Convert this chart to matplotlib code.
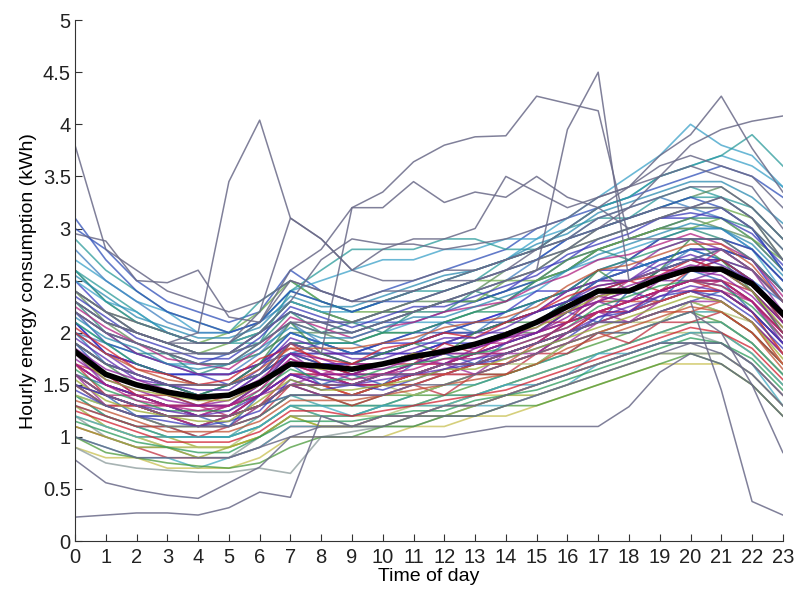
import numpy as np
import matplotlib
matplotlib.use('Agg')
import matplotlib.pyplot as plt

hours = list(range(24))

# average profile (thick black line)
mean_profile = [1.82, 1.60, 1.50, 1.43, 1.38, 1.40, 1.52, 1.70, 1.68, 1.65, 1.70, 1.77,
                1.82, 1.89, 1.98, 2.10, 2.25, 2.40, 2.40, 2.52, 2.61, 2.61, 2.47, 2.18]

# upper band of household profiles
upper_band = [
    [3.0, 2.8, 2.5, 2.3, 2.2, 2.1, 2.2, 2.6, 2.4, 2.3, 2.4, 2.5, 2.6, 2.7, 2.8, 3.0, 3.1, 3.2, 3.3, 3.4, 3.5, 3.6, 3.5, 3.3],
    [2.9, 2.6, 2.4, 2.2, 2.1, 2.0, 2.3, 2.5, 2.3, 2.2, 2.3, 2.4, 2.4, 2.5, 2.7, 2.8, 3.0, 3.1, 3.1, 3.3, 3.4, 3.3, 3.1, 2.8],
    [2.7, 2.5, 2.3, 2.2, 2.0, 2.0, 2.1, 2.4, 2.5, 2.6, 2.7, 2.7, 2.8, 2.8, 2.9, 2.9, 3.0, 3.2, 3.3, 3.5, 3.6, 3.7, 3.6, 3.4],
    [2.6, 2.3, 2.1, 2.0, 1.9, 1.9, 2.0, 2.3, 2.2, 2.1, 2.2, 2.3, 2.3, 2.4, 2.6, 2.7, 2.8, 3.0, 3.1, 3.2, 3.3, 3.4, 3.2, 2.9],
    [2.5, 2.2, 2.0, 1.9, 1.8, 1.8, 2.0, 2.2, 2.1, 2.1, 2.2, 2.2, 2.3, 2.3, 2.4, 2.6, 2.7, 2.9, 3.0, 3.1, 3.1, 3.2, 3.0, 2.6],
    [2.4, 2.2, 2.1, 2.0, 1.9, 2.0, 2.2, 2.5, 2.3, 2.2, 2.2, 2.3, 2.4, 2.5, 2.5, 2.6, 2.8, 2.9, 3.0, 3.1, 3.2, 3.2, 3.1, 2.7],
    [2.8, 2.5, 2.3, 2.1, 2.0, 2.0, 2.1, 2.3, 2.2, 2.1, 2.1, 2.2, 2.3, 2.4, 2.5, 2.7, 2.9, 3.1, 3.2, 3.3, 3.2, 3.1, 2.9, 2.6],
    [2.3, 2.1, 2.0, 1.9, 1.8, 1.8, 1.9, 2.1, 2.0, 2.0, 2.1, 2.2, 2.3, 2.3, 2.4, 2.5, 2.7, 2.8, 2.9, 3.0, 3.1, 3.1, 3.0, 2.7],
    [2.2, 2.0, 1.9, 1.8, 1.7, 1.8, 2.0, 2.2, 2.1, 2.0, 2.1, 2.1, 2.2, 2.3, 2.4, 2.5, 2.6, 2.8, 2.9, 3.0, 3.0, 3.0, 2.8, 2.5],
    [2.6, 2.4, 2.2, 2.0, 1.9, 1.9, 1.9, 2.4, 2.6, 2.8, 2.8, 2.8, 2.9, 2.9, 2.8, 2.8, 2.9, 3.0, 3.1, 3.2, 3.3, 3.3, 3.2, 2.9],
    [2.1, 1.9, 1.8, 1.7, 1.7, 1.7, 1.8, 2.0, 1.9, 1.9, 2.0, 2.1, 2.1, 2.2, 2.3, 2.4, 2.6, 2.7, 2.8, 2.9, 3.0, 3.0, 2.8, 2.4],
    [2.4, 2.1, 1.9, 1.8, 1.7, 1.7, 1.8, 2.0, 2.0, 1.9, 2.0, 2.0, 2.1, 2.2, 2.3, 2.5, 2.7, 2.8, 2.9, 3.0, 3.1, 3.0, 2.9, 2.6],
]

# middle-high band
midhigh_band = [
    [2.1, 1.8, 1.7, 1.6, 1.6, 1.6, 1.7, 1.9, 1.8, 1.8, 1.9, 1.9, 2.0, 2.1, 2.2, 2.3, 2.4, 2.6, 2.6, 2.7, 2.8, 2.8, 2.7, 2.3],
    [2.0, 1.8, 1.7, 1.6, 1.5, 1.5, 1.7, 1.9, 1.9, 1.8, 1.8, 1.9, 2.0, 2.0, 2.1, 2.2, 2.4, 2.5, 2.5, 2.7, 2.8, 2.8, 2.6, 2.3],
    [2.2, 1.9, 1.8, 1.7, 1.6, 1.6, 1.7, 1.8, 1.8, 1.8, 1.9, 2.0, 2.0, 2.1, 2.1, 2.2, 2.3, 2.5, 2.6, 2.7, 2.7, 2.8, 2.7, 2.4],
    [1.9, 1.7, 1.6, 1.5, 1.5, 1.5, 1.6, 1.8, 1.7, 1.7, 1.8, 1.8, 1.9, 2.0, 2.1, 2.2, 2.3, 2.5, 2.5, 2.6, 2.7, 2.7, 2.5, 2.2],
    [2.0, 1.7, 1.6, 1.5, 1.4, 1.5, 1.7, 2.0, 1.9, 1.8, 1.8, 1.9, 1.9, 2.0, 2.1, 2.3, 2.4, 2.5, 2.6, 2.7, 2.8, 2.7, 2.5, 2.1],
    [1.9, 1.7, 1.6, 1.5, 1.4, 1.4, 1.6, 1.8, 1.8, 1.7, 1.7, 1.8, 1.9, 2.0, 2.0, 2.1, 2.3, 2.4, 2.5, 2.6, 2.6, 2.6, 2.4, 2.1],
    [2.1, 1.9, 1.7, 1.6, 1.5, 1.5, 1.6, 1.9, 1.9, 1.9, 2.0, 2.0, 2.1, 2.2, 2.2, 2.3, 2.4, 2.6, 2.7, 2.8, 2.9, 2.9, 2.7, 2.4],
    [1.8, 1.6, 1.5, 1.4, 1.4, 1.4, 1.5, 1.7, 1.7, 1.7, 1.8, 1.8, 1.9, 1.9, 2.0, 2.1, 2.3, 2.4, 2.4, 2.5, 2.6, 2.7, 2.5, 2.2],
    [2.0, 1.8, 1.6, 1.5, 1.4, 1.4, 1.6, 1.9, 1.8, 1.7, 1.7, 1.8, 1.8, 1.9, 2.0, 2.1, 2.2, 2.4, 2.5, 2.6, 2.7, 2.7, 2.6, 2.3],
    [1.9, 1.6, 1.5, 1.4, 1.3, 1.3, 1.5, 1.8, 1.7, 1.6, 1.7, 1.8, 1.8, 1.9, 2.0, 2.1, 2.3, 2.4, 2.4, 2.6, 2.7, 2.6, 2.5, 2.2],
    [2.2, 2.0, 1.8, 1.7, 1.6, 1.6, 1.7, 1.9, 1.8, 1.8, 1.8, 1.9, 2.0, 2.0, 2.1, 2.2, 2.4, 2.5, 2.6, 2.8, 2.9, 2.8, 2.6, 2.2],
    [1.8, 1.6, 1.5, 1.5, 1.4, 1.5, 1.6, 1.8, 1.9, 1.8, 1.8, 1.9, 2.0, 2.0, 2.1, 2.2, 2.3, 2.5, 2.6, 2.7, 2.8, 2.7, 2.5, 2.3],
]

# central band
central_band = [
    [1.7, 1.5, 1.4, 1.3, 1.3, 1.3, 1.4, 1.6, 1.6, 1.6, 1.6, 1.7, 1.7, 1.8, 1.9, 2.0, 2.1, 2.3, 2.3, 2.4, 2.5, 2.5, 2.4, 2.1],
    [1.6, 1.4, 1.3, 1.2, 1.2, 1.2, 1.4, 1.6, 1.5, 1.5, 1.6, 1.6, 1.7, 1.8, 1.8, 1.9, 2.1, 2.2, 2.3, 2.4, 2.5, 2.5, 2.3, 2.0],
    [1.8, 1.6, 1.4, 1.3, 1.3, 1.3, 1.4, 1.7, 1.6, 1.5, 1.6, 1.7, 1.7, 1.8, 1.9, 2.0, 2.1, 2.2, 2.3, 2.4, 2.4, 2.5, 2.3, 2.0],
    [1.7, 1.5, 1.4, 1.3, 1.2, 1.3, 1.4, 1.6, 1.5, 1.5, 1.5, 1.6, 1.7, 1.7, 1.8, 1.9, 2.0, 2.1, 2.2, 2.3, 2.4, 2.4, 2.2, 1.9],
    [1.6, 1.4, 1.3, 1.3, 1.2, 1.2, 1.3, 1.5, 1.5, 1.4, 1.5, 1.6, 1.6, 1.7, 1.8, 1.9, 2.0, 2.2, 2.2, 2.3, 2.4, 2.4, 2.2, 1.9],
    [1.7, 1.5, 1.4, 1.3, 1.3, 1.3, 1.5, 1.7, 1.7, 1.6, 1.6, 1.7, 1.8, 1.8, 1.9, 2.0, 2.2, 2.3, 2.4, 2.5, 2.6, 2.6, 2.4, 2.0],
    [1.5, 1.4, 1.3, 1.2, 1.1, 1.2, 1.3, 1.5, 1.4, 1.4, 1.5, 1.5, 1.6, 1.7, 1.7, 1.8, 2.0, 2.1, 2.2, 2.3, 2.4, 2.3, 2.1, 1.8],
    [1.6, 1.5, 1.4, 1.3, 1.2, 1.2, 1.3, 1.4, 1.4, 1.4, 1.5, 1.6, 1.6, 1.7, 1.8, 1.9, 2.0, 2.1, 2.1, 2.2, 2.3, 2.4, 2.2, 1.9],
    [1.7, 1.4, 1.3, 1.2, 1.2, 1.2, 1.3, 1.6, 1.6, 1.5, 1.5, 1.6, 1.7, 1.7, 1.8, 1.9, 2.0, 2.2, 2.3, 2.4, 2.5, 2.4, 2.2, 1.8],
    [1.5, 1.3, 1.2, 1.2, 1.1, 1.1, 1.3, 1.5, 1.4, 1.4, 1.4, 1.5, 1.6, 1.6, 1.7, 1.8, 1.9, 2.1, 2.1, 2.2, 2.3, 2.3, 2.1, 1.8],
    [1.6, 1.4, 1.3, 1.3, 1.2, 1.3, 1.4, 1.6, 1.6, 1.5, 1.5, 1.6, 1.6, 1.7, 1.7, 1.8, 2.0, 2.1, 2.2, 2.3, 2.4, 2.4, 2.3, 2.0],
    [1.8, 1.5, 1.4, 1.3, 1.2, 1.2, 1.4, 1.6, 1.5, 1.5, 1.6, 1.6, 1.7, 1.8, 1.9, 2.0, 2.1, 2.3, 2.4, 2.5, 2.5, 2.5, 2.3, 1.9],
    [1.5, 1.3, 1.3, 1.2, 1.1, 1.2, 1.3, 1.5, 1.5, 1.4, 1.5, 1.5, 1.6, 1.6, 1.7, 1.8, 1.9, 2.0, 2.1, 2.2, 2.2, 2.3, 2.1, 1.7],
    [1.6, 1.4, 1.3, 1.2, 1.2, 1.2, 1.3, 1.5, 1.5, 1.5, 1.5, 1.6, 1.7, 1.8, 1.8, 1.9, 2.1, 2.2, 2.3, 2.4, 2.5, 2.5, 2.3, 2.0],
    [1.9, 1.7, 1.5, 1.5, 1.4, 1.5, 1.7, 2.1, 1.8, 1.7, 1.8, 1.9, 1.8, 2.0, 2.1, 2.1, 2.3, 2.6, 2.4, 2.6, 2.9, 2.7, 2.4, 2.0],
    [1.5, 1.4, 1.2, 1.2, 1.2, 1.1, 1.4, 1.7, 1.5, 1.6, 1.5, 1.7, 1.8, 1.7, 1.9, 2.0, 2.2, 2.1, 2.4, 2.3, 2.6, 2.5, 2.2, 1.9],
    [1.7, 1.6, 1.4, 1.4, 1.3, 1.4, 1.5, 1.9, 1.7, 1.6, 1.7, 1.7, 1.9, 1.8, 2.0, 2.1, 2.1, 2.4, 2.5, 2.4, 2.6, 2.7, 2.5, 2.1],
    [1.6, 1.3, 1.3, 1.2, 1.1, 1.2, 1.4, 1.5, 1.6, 1.5, 1.6, 1.6, 1.7, 1.6, 1.8, 1.8, 2.0, 2.2, 2.1, 2.3, 2.4, 2.3, 2.1, 1.8],
    [1.8, 1.6, 1.5, 1.4, 1.4, 1.4, 1.5, 1.7, 1.6, 1.7, 1.7, 1.8, 1.8, 1.9, 1.9, 2.1, 2.2, 2.3, 2.5, 2.6, 2.6, 2.8, 2.6, 2.3],
    [1.7, 1.5, 1.4, 1.3, 1.3, 1.3, 1.5, 1.8, 1.6, 1.6, 1.6, 1.7, 1.8, 1.8, 1.9, 2.0, 2.2, 2.3, 2.2, 2.4, 2.5, 2.6, 2.4, 2.1],
    [1.5, 1.3, 1.3, 1.2, 1.2, 1.2, 1.3, 1.5, 1.5, 1.4, 1.5, 1.6, 1.6, 1.7, 1.7, 1.9, 2.0, 2.2, 2.3, 2.3, 2.4, 2.4, 2.2, 1.8],
    [1.6, 1.4, 1.4, 1.3, 1.3, 1.2, 1.4, 1.7, 1.6, 1.5, 1.6, 1.6, 1.7, 1.7, 1.8, 1.9, 2.1, 2.2, 2.2, 2.4, 2.5, 2.5, 2.3, 2.0],
]

# extra profiles filling the dense core
core_band = [
    [1.75, 1.55, 1.45, 1.35, 1.3, 1.35, 1.5, 1.75, 1.6, 1.6, 1.7, 1.75, 1.7, 1.85, 1.95, 2.0, 2.15, 2.35, 2.3, 2.5, 2.6, 2.55, 2.35, 2.05],
    [2.05, 1.85, 1.65, 1.6, 1.5, 1.55, 1.75, 1.85, 1.75, 1.7, 1.85, 1.9, 2.0, 1.95, 2.1, 2.2, 2.35, 2.45, 2.5, 2.55, 2.7, 2.6, 2.45, 2.15],
    [1.45, 1.3, 1.2, 1.15, 1.1, 1.15, 1.25, 1.55, 1.45, 1.5, 1.45, 1.55, 1.65, 1.7, 1.75, 1.85, 1.95, 2.15, 2.2, 2.35, 2.4, 2.35, 2.15, 1.85],
    [2.25, 2.05, 1.9, 1.75, 1.7, 1.65, 1.85, 2.15, 2.05, 1.95, 2.05, 2.1, 2.2, 2.25, 2.3, 2.45, 2.55, 2.7, 2.75, 2.85, 2.95, 2.85, 2.7, 2.35],
    [1.65, 1.45, 1.35, 1.25, 1.25, 1.25, 1.45, 1.65, 1.55, 1.55, 1.65, 1.7, 1.75, 1.8, 1.85, 1.95, 2.05, 2.25, 2.35, 2.45, 2.5, 2.45, 2.25, 1.95],
    [1.35, 1.25, 1.15, 1.05, 1.05, 1.05, 1.15, 1.35, 1.35, 1.35, 1.4, 1.45, 1.5, 1.55, 1.6, 1.7, 1.85, 1.95, 2.05, 2.15, 2.25, 2.2, 2.0, 1.65],
    [1.95, 1.75, 1.55, 1.5, 1.45, 1.45, 1.65, 1.95, 1.85, 1.75, 1.75, 1.85, 1.95, 1.95, 2.05, 2.2, 2.3, 2.45, 2.5, 2.65, 2.75, 2.65, 2.5, 2.2],
    [2.15, 1.95, 1.85, 1.7, 1.65, 1.7, 1.85, 2.05, 1.95, 1.95, 2.05, 2.15, 2.15, 2.25, 2.35, 2.45, 2.6, 2.75, 2.85, 2.95, 3.05, 3.0, 2.85, 2.55],
    [1.55, 1.35, 1.25, 1.2, 1.15, 1.15, 1.35, 1.55, 1.45, 1.45, 1.5, 1.55, 1.65, 1.65, 1.75, 1.85, 1.95, 2.05, 2.15, 2.25, 2.35, 2.3, 2.1, 1.75],
    [1.85, 1.65, 1.55, 1.45, 1.35, 1.4, 1.55, 1.8, 1.75, 1.65, 1.65, 1.75, 1.85, 1.85, 1.95, 2.05, 2.25, 2.35, 2.45, 2.55, 2.65, 2.6, 2.45, 2.15],
    [1.25, 1.15, 1.05, 0.95, 0.95, 0.95, 1.05, 1.25, 1.25, 1.2, 1.25, 1.3, 1.35, 1.4, 1.45, 1.55, 1.65, 1.75, 1.85, 1.95, 2.05, 2.0, 1.85, 1.55],
    [2.35, 2.15, 1.95, 1.85, 1.75, 1.75, 1.95, 2.25, 2.15, 2.05, 2.15, 2.25, 2.25, 2.35, 2.45, 2.55, 2.75, 2.85, 2.95, 3.1, 3.15, 3.1, 2.95, 2.65],
    [1.7, 1.5, 1.35, 1.3, 1.25, 1.3, 1.45, 1.75, 1.65, 1.55, 1.6, 1.65, 1.75, 1.75, 1.85, 1.95, 2.05, 2.2, 2.3, 2.4, 2.5, 2.45, 2.3, 1.95],
    [1.15, 1.05, 0.95, 0.9, 0.85, 0.85, 1.0, 1.15, 1.15, 1.15, 1.2, 1.25, 1.25, 1.35, 1.4, 1.45, 1.55, 1.65, 1.75, 1.85, 1.95, 1.9, 1.75, 1.45],
    [2.0, 1.8, 1.65, 1.55, 1.5, 1.5, 1.65, 1.85, 1.85, 1.85, 1.9, 1.95, 2.05, 2.1, 2.15, 2.25, 2.45, 2.6, 2.65, 2.75, 2.85, 2.85, 2.65, 2.3],
    [1.5, 1.4, 1.3, 1.25, 1.2, 1.25, 1.4, 1.6, 1.55, 1.5, 1.55, 1.6, 1.65, 1.75, 1.8, 1.9, 2.0, 2.15, 2.25, 2.35, 2.45, 2.4, 2.2, 1.9],
    [2.55, 2.35, 2.15, 2.05, 1.95, 1.95, 2.05, 2.35, 2.25, 2.25, 2.35, 2.45, 2.55, 2.6, 2.7, 2.85, 2.95, 3.15, 3.25, 3.35, 3.45, 3.45, 3.3, 3.05],
    [1.8, 1.55, 1.45, 1.4, 1.35, 1.35, 1.5, 1.7, 1.65, 1.65, 1.7, 1.8, 1.8, 1.9, 2.0, 2.05, 2.2, 2.35, 2.4, 2.5, 2.6, 2.6, 2.4, 2.05],
]

# mixed jagged profiles in the upper-middle
jagged_band = [
    [2.3, 2.0, 1.8, 1.8, 1.6, 1.7, 1.9, 2.2, 2.0, 2.1, 2.0, 2.2, 2.2, 2.4, 2.3, 2.5, 2.6, 2.8, 2.7, 2.9, 3.0, 2.9, 2.8, 2.5],
    [2.0, 1.9, 1.7, 1.6, 1.6, 1.6, 1.8, 2.1, 1.9, 1.9, 1.8, 1.9, 2.1, 2.0, 2.2, 2.3, 2.4, 2.5, 2.7, 2.6, 2.8, 2.8, 2.7, 2.4],
    [2.4, 2.2, 2.0, 1.9, 1.8, 1.9, 2.0, 2.3, 2.2, 2.1, 2.2, 2.2, 2.3, 2.3, 2.5, 2.5, 2.6, 2.8, 2.9, 3.0, 3.0, 3.1, 2.9, 2.7],
    [2.1, 1.8, 1.7, 1.6, 1.6, 1.5, 1.7, 2.0, 1.9, 1.8, 1.9, 2.0, 2.1, 2.1, 2.2, 2.4, 2.4, 2.6, 2.7, 2.9, 2.9, 2.9, 2.8, 2.5],
    [1.9, 1.7, 1.6, 1.5, 1.5, 1.5, 1.6, 1.8, 1.7, 1.6, 1.7, 1.8, 1.8, 1.9, 2.0, 2.0, 2.2, 2.4, 2.4, 2.6, 2.7, 2.7, 2.6, 2.3],
    [2.5, 2.3, 2.2, 2.0, 1.9, 1.9, 2.0, 2.3, 2.2, 2.2, 2.3, 2.4, 2.5, 2.6, 2.7, 2.9, 3.1, 3.3, 3.5, 3.7, 4.0, 3.8, 3.7, 3.4],
    [2.6, 2.3, 2.1, 2.0, 1.9, 1.9, 2.1, 2.4, 2.3, 2.2, 2.3, 2.4, 2.5, 2.6, 2.7, 2.8, 3.0, 3.2, 3.3, 3.5, 3.6, 3.7, 3.9, 3.6],
    [3.1, 2.7, 2.4, 2.2, 2.1, 2.0, 2.1, 2.4, 2.3, 2.2, 2.3, 2.3, 2.4, 2.5, 2.6, 2.7, 2.9, 3.0, 3.1, 3.2, 3.3, 3.2, 3.0, 2.6],
]

# lower band
lower_band = [
    [1.4, 1.2, 1.1, 1.0, 1.0, 1.0, 1.1, 1.3, 1.3, 1.3, 1.3, 1.4, 1.4, 1.5, 1.6, 1.7, 1.8, 1.9, 2.0, 2.1, 2.2, 2.1, 1.9, 1.6],
    [1.3, 1.1, 1.0, 1.0, 0.9, 0.9, 1.0, 1.2, 1.2, 1.2, 1.3, 1.3, 1.4, 1.4, 1.5, 1.6, 1.7, 1.8, 1.9, 2.0, 2.1, 2.1, 1.9, 1.6],
    [1.2, 1.1, 1.0, 0.9, 0.9, 0.9, 1.0, 1.2, 1.1, 1.1, 1.2, 1.2, 1.3, 1.4, 1.4, 1.5, 1.6, 1.7, 1.8, 1.9, 2.0, 2.0, 1.8, 1.5],
    [1.4, 1.2, 1.1, 1.1, 1.0, 1.0, 1.2, 1.4, 1.3, 1.3, 1.3, 1.4, 1.5, 1.5, 1.6, 1.7, 1.8, 2.0, 2.0, 2.1, 2.2, 2.2, 2.0, 1.7],
    [1.1, 1.0, 0.9, 0.8, 0.8, 0.8, 0.9, 1.1, 1.1, 1.1, 1.2, 1.2, 1.3, 1.3, 1.4, 1.5, 1.6, 1.7, 1.8, 1.9, 1.9, 1.9, 1.7, 1.4],
    [1.3, 1.1, 1.0, 0.9, 0.9, 0.9, 1.1, 1.3, 1.2, 1.2, 1.2, 1.3, 1.3, 1.4, 1.5, 1.6, 1.7, 1.8, 1.9, 2.0, 2.0, 2.0, 1.8, 1.5],
    [1.0, 0.9, 0.8, 0.8, 0.7, 0.8, 0.9, 1.1, 1.1, 1.1, 1.1, 1.2, 1.2, 1.3, 1.3, 1.4, 1.5, 1.7, 1.8, 1.9, 1.9, 1.9, 1.7, 1.3],
    [1.2, 1.0, 0.9, 0.9, 0.8, 0.8, 1.0, 1.2, 1.2, 1.1, 1.2, 1.2, 1.3, 1.3, 1.4, 1.5, 1.6, 1.7, 1.8, 1.9, 2.0, 1.9, 1.7, 1.4],
    [1.4, 1.3, 1.2, 1.1, 1.1, 1.1, 1.2, 1.4, 1.4, 1.3, 1.4, 1.4, 1.5, 1.6, 1.6, 1.7, 1.9, 2.0, 2.1, 2.2, 2.3, 2.2, 2.0, 1.7],
    [1.1, 1.0, 0.9, 0.9, 0.8, 0.9, 1.0, 1.2, 1.1, 1.1, 1.1, 1.2, 1.2, 1.3, 1.4, 1.4, 1.5, 1.6, 1.7, 1.8, 1.8, 1.8, 1.6, 1.3],
    [0.9, 0.8, 0.8, 0.7, 0.7, 0.7, 0.8, 1.0, 1.0, 1.0, 1.0, 1.1, 1.1, 1.2, 1.2, 1.3, 1.4, 1.5, 1.6, 1.7, 1.7, 1.7, 1.5, 1.2],
    [1.3, 1.2, 1.1, 1.0, 1.0, 1.0, 1.1, 1.3, 1.2, 1.2, 1.3, 1.3, 1.4, 1.4, 1.5, 1.6, 1.7, 1.8, 1.9, 2.0, 2.1, 2.1, 1.9, 1.6],
    [1.3, 1.2, 1.1, 1.1, 1.0, 1.1, 1.2, 1.5, 1.4, 1.3, 1.4, 1.5, 1.4, 1.6, 1.6, 1.8, 1.8, 2.0, 1.9, 2.1, 2.1, 2.2, 2.0, 1.7],
    [1.4, 1.3, 1.2, 1.1, 1.1, 1.1, 1.3, 1.4, 1.4, 1.4, 1.5, 1.4, 1.5, 1.6, 1.7, 1.7, 1.9, 2.0, 2.1, 2.1, 2.3, 2.2, 2.1, 1.7],
    [1.2, 1.1, 1.0, 1.0, 1.0, 1.0, 1.1, 1.3, 1.3, 1.2, 1.3, 1.3, 1.3, 1.4, 1.5, 1.5, 1.6, 1.8, 1.8, 1.9, 2.0, 2.0, 1.8, 1.5],
    [0.9, 0.75, 0.7, 0.68, 0.66, 0.66, 0.7, 0.65, 1.0, 1.05, 1.1, 1.1, 1.2, 1.2, 1.3, 1.4, 1.5, 1.6, 1.7, 1.8, 1.8, 1.8, 1.6, 1.3],
    [1.0, 0.85, 0.8, 0.75, 0.72, 0.7, 0.75, 0.9, 1.0, 1.0, 1.1, 1.1, 1.2, 1.2, 1.3, 1.3, 1.4, 1.5, 1.6, 1.7, 1.8, 1.7, 1.5, 1.2],
]

# individually visible outlier households
outliers = [
    [2.3, 2.1, 2.0, 1.9, 2.0, 3.45, 4.04, 3.1, 2.9, 2.6, 2.5, 2.5, 2.6, 2.6, 2.7, 2.8, 2.9, 3.0, 3.1, 3.2, 3.2, 3.3, 3.1, 2.8],
    [2.4, 2.2, 2.0, 1.9, 1.8, 1.8, 1.9, 2.1, 2.0, 2.0, 2.1, 2.2, 2.3, 2.4, 2.5, 2.6, 3.95, 4.5, 2.5, 2.6, 2.7, 2.8, 2.6, 2.3],
    [1.9, 1.7, 1.6, 1.5, 1.5, 1.5, 1.6, 1.9, 1.8, 3.2, 3.35, 3.64, 3.8, 3.88, 3.89, 4.27, 4.2, 4.13, 2.9, 2.9, 2.9, 2.9, 2.7, 2.4],
    [2.4, 2.2, 2.1, 2.0, 1.9, 1.9, 2.1, 2.6, 2.8, 3.2, 3.2, 3.45, 3.25, 3.35, 3.3, 3.5, 3.3, 3.2, 3.0, 3.1, 3.2, 3.3, 3.1, 2.7],
    [2.3, 2.1, 2.0, 1.9, 1.9, 1.9, 2.2, 3.1, 2.9, 2.6, 2.8, 2.9, 2.9, 3.0, 3.5, 3.35, 3.2, 3.3, 3.4, 3.6, 3.7, 3.6, 3.5, 3.2],
    [2.2, 2.0, 1.9, 1.8, 1.8, 1.8, 2.0, 2.3, 2.7, 2.9, 2.85, 2.85, 2.8, 2.85, 2.9, 3.0, 3.1, 3.3, 3.4, 3.5, 3.6, 3.5, 3.4, 3.0],
    [2.3, 2.1, 2.0, 1.9, 1.8, 1.8, 2.0, 2.2, 2.1, 2.1, 2.2, 2.3, 2.4, 2.5, 2.6, 2.8, 3.0, 3.2, 3.4, 3.7, 3.9, 4.27, 3.77, 3.35],
    [2.2, 2.0, 1.9, 1.8, 1.7, 1.7, 1.9, 2.1, 2.1, 2.0, 2.1, 2.2, 2.3, 2.4, 2.5, 2.6, 2.8, 3.0, 3.2, 3.5, 3.8, 3.95, 4.03, 4.08],
    [3.8, 2.8, 2.6, 2.4, 2.3, 2.2, 2.3, 2.5, 2.4, 2.3, 2.3, 2.4, 2.5, 2.5, 2.6, 2.7, 2.8, 2.9, 3.0, 3.1, 3.2, 3.2, 3.0, 2.7],
    [2.95, 2.88, 2.5, 2.48, 2.6, 2.15, 2.1, 2.5, 2.4, 2.3, 2.4, 2.4, 2.5, 2.6, 2.7, 2.8, 2.9, 3.1, 3.2, 3.3, 3.4, 3.4, 3.2, 2.9],
    [0.78, 0.56, 0.49, 0.44, 0.41, 0.56, 0.71, 1.0, 1.1, 1.1, 1.2, 1.2, 1.3, 1.3, 1.4, 1.5, 1.6, 1.7, 1.8, 1.9, 1.9, 1.9, 1.7, 1.4],
    [0.23, 0.25, 0.27, 0.27, 0.25, 0.32, 0.47, 0.42, 1.2, 1.1, 1.1, 1.2, 1.2, 1.2, 1.3, 1.4, 1.5, 1.6, 1.7, 1.8, 1.9, 1.8, 1.6, 1.3],
    [1.6, 1.4, 1.3, 1.2, 1.2, 1.2, 1.3, 1.5, 1.5, 1.5, 1.6, 1.6, 1.7, 1.7, 1.8, 1.9, 2.0, 2.1, 2.1, 2.2, 2.3, 1.45, 0.38, 0.25],
    [1.0, 0.9, 0.8, 0.8, 0.8, 0.8, 0.9, 1.0, 1.0, 1.0, 1.0, 1.0, 1.0, 1.05, 1.1, 1.1, 1.1, 1.1, 1.29, 1.62, 1.8, 1.7, 1.5, 1.2],
    [1.5, 1.3, 1.2, 1.1, 1.1, 1.1, 1.2, 1.4, 1.4, 1.4, 1.4, 1.5, 1.5, 1.6, 1.7, 1.8, 1.9, 2.0, 2.0, 2.1, 2.2, 2.0, 1.5, 0.85],
]

# colour sets roughly following where each band sits in the picture
upper_colors = ['#2f4fb8', '#2a9a9a', '#3aa0c8', '#5a8a5a', '#3a3ac0', '#6aa84a', '#4080c0', '#2a8a7a']
midhigh_colors = ['#3030c8', '#6a2aa8', '#2a50b0', '#8a2a9a', '#2a70b8', '#5a3ab0', '#2a9a70']
central_colors = ['#c02838', '#9a2a9a', '#c03080', '#7a2aa0', '#d04a3a', '#b02a6a', '#3a8a4a', '#2a60b0']
core_colors = ['#8a1a9a', '#d02030', '#3a3ab8', '#b02080', '#2a9a5a', '#c05030', '#5a2ab0', '#2a8ab0', '#9aaa30']
lower_colors = ['#4a9a3a', '#9aaa30', '#c8c050', '#3aa0a0', '#c03040', '#b0c070', '#40a8c0', '#8a9a9a']
outlier_color = '#6a6a88'

fig = plt.figure(figsize=(7.98, 5.92), dpi=100)
ax = fig.add_axes([0.094, 0.086, 0.887, 0.880])

def draw_band(profiles, colors, lw=1.2, alpha=0.75):
    for i, p in enumerate(profiles):
        ax.plot(hours, p, color=colors[i % len(colors)], lw=lw, alpha=alpha)

draw_band(upper_band, upper_colors)
draw_band(jagged_band, upper_colors[::-1])
draw_band(midhigh_band, midhigh_colors)
draw_band(lower_band, lower_colors)
draw_band(central_band, central_colors)
draw_band(core_band, core_colors)
draw_band(outliers, [outlier_color], lw=1.1, alpha=0.85)

ax.plot(hours, mean_profile, color='black', lw=4)

font = 'Liberation Sans'
ax.set_xlim(0, 23)
ax.set_ylim(0, 5)
ax.set_xticks(hours)
ax.set_xticklabels([str(h) for h in hours], fontsize=14.5, family=font)
yt = [0, 0.5, 1, 1.5, 2, 2.5, 3, 3.5, 4, 4.5, 5]
ax.set_yticks(yt)
ax.set_yticklabels(['0', '0.5', '1', '1.5', '2', '2.5', '3', '3.5', '4', '4.5', '5'], fontsize=14.5, family=font)
ax.tick_params(direction='in', length=5, color='#333333', labelcolor='#222222')
ax.tick_params(axis='x', pad=5)
ax.tick_params(axis='y', pad=3)
for s in ['top', 'right']:
    ax.spines[s].set_visible(False)
for s in ['left', 'bottom']:
    ax.spines[s].set_color('#333333')
ax.set_xlabel('Time of day', fontsize=14, family=font, labelpad=1)
ax.set_ylabel('Hourly energy consumption (kWh)', fontsize=14, family=font, labelpad=4)

fig.savefig('out.png', dpi=100)
